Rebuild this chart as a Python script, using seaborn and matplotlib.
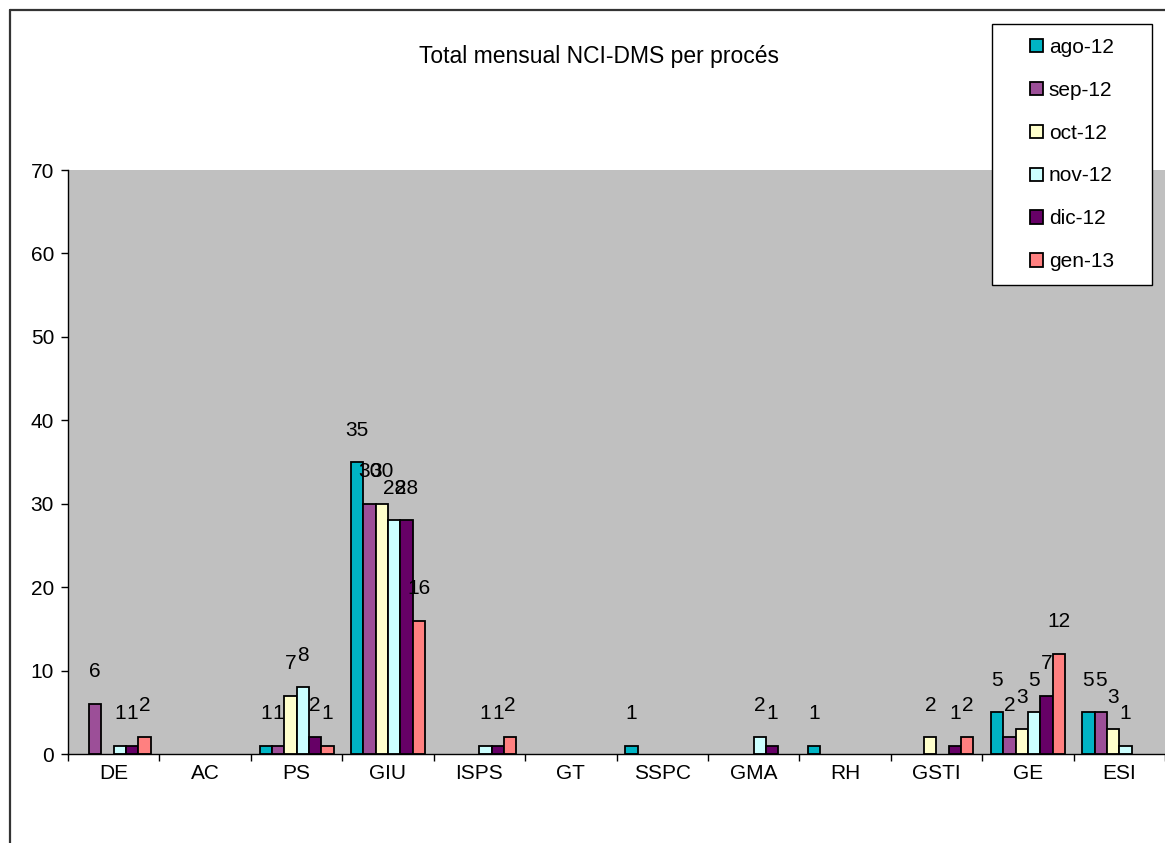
import numpy as np
import pandas as pd
import matplotlib
matplotlib.use("Agg")
import matplotlib.pyplot as plt
from matplotlib import font_manager
from matplotlib.patches import Patch, Rectangle
from matplotlib.lines import Line2D
import seaborn as sns

# Data: monthly NCI-DMS totals by process
processes = ["DE", "AC", "PS", "GIU", "ISPS", "GT", "SSPC", "GMA", "RH", "GSTI", "GE", "ESI"]
months = ["ago-12", "sep-12", "oct-12", "nov-12", "dic-12", "gen-13"]
ago_12 = [0, 0, 1, 35, 0, 0, 1, 0, 1, 0, 5, 5]
sep_12 = [6, 0, 1, 30, 0, 0, 0, 0, 0, 0, 2, 5]
oct_12 = [0, 0, 7, 30, 0, 0, 0, 0, 0, 2, 3, 3]
nov_12 = [1, 0, 8, 28, 1, 0, 0, 2, 0, 0, 5, 1]
dic_12 = [1, 0, 2, 28, 1, 0, 0, 1, 0, 1, 7, 0]
gen_13 = [2, 0, 1, 16, 2, 0, 0, 0, 0, 2, 12, 0]
series = [ago_12, sep_12, oct_12, nov_12, dic_12, gen_13]
y_ticks = [0, 10, 20, 30, 40, 50, 60, 70]
title = "Total mensual NCI-DMS per procés"

colors = ["#00B4C4", "#9C4F98", "#FFFFCC", "#CCFFFF", "#660066", "#FF8080"]

df = pd.DataFrame({
    "proces": np.repeat([processes], len(months), axis=0).ravel(),
    "mes": np.repeat(months, len(processes)),
    "valor": np.concatenate(series),
})


def pick_font(names):
    for n in names:
        try:
            font_manager.findfont(font_manager.FontProperties(family=n), fallback_to_default=False)
            return n
        except Exception:
            continue
    return "DejaVu Sans"


sns.set_theme(style="white")
family = pick_font(["Liberation Sans Narrow", "Liberation Sans", "Arial"])
plt.rcParams["font.family"] = [family, "DejaVu Sans"]

FS = 15

W, H = 1165, 843
fig = plt.figure(figsize=(W / 100, H / 100), dpi=100)
fig.patch.set_facecolor("white")
ax = fig.add_axes([68 / W, 1 - 754 / H, (W - 68) / W, (754 - 170) / H])
ax.set_facecolor("#C0C0C0")

sns.barplot(data=df, x="proces", y="valor", hue="mes", order=processes,
            hue_order=months, palette=colors, width=0.81, gap=0,
            edgecolor="black", linewidth=1.3, saturation=1, ax=ax, legend=False)

# value labels above non-zero bars; empty bars are not drawn
for cont, vals in zip(ax.containers, series):
    for bar, v in zip(cont, vals):
        if v == 0:
            bar.set_visible(False)
            continue
        cx = bar.get_x() + bar.get_width() / 2
        ax.annotate(str(v), (cx, v), xytext=(0, 23), textcoords="offset points",
                    ha="center", va="center", fontsize=FS, color="black")

ax.set_xlim(-0.5, len(processes) - 0.5)
ax.set_ylim(0, 70)
ax.set_yticks(y_ticks)
ax.set_yticklabels([str(t) for t in y_ticks])
ax.tick_params(axis="y", which="major", left=True, length=5, width=1, color="black",
               pad=5, labelsize=FS, labelcolor="black")

# category separators as major ticks, names centred as minor ticks
ax.set_xticks(np.arange(-0.5, len(processes), 1))
ax.set_xticklabels([])
ax.set_xticks(np.arange(len(processes)), minor=True)
ax.set_xticklabels(processes, minor=True)
ax.tick_params(axis="x", which="major", bottom=True, length=5, width=1, color="black")
ax.tick_params(axis="x", which="minor", bottom=True, length=0, pad=7, labelsize=FS,
               labelcolor="black")
ax.set_xlabel("")
ax.set_ylabel("")

for side in ["top", "right"]:
    ax.spines[side].set_visible(False)
for side in ["left", "bottom"]:
    ax.spines[side].set_color("black")
    ax.spines[side].set_linewidth(1.0)

fig.text(599 / W, 1 - 57 / H, title, ha="center", va="center", fontsize=16.5, color="black")

# legend box with the entries centred inside it
box = (992 / W, 1 - 285 / H, 160 / W, 261 / H)
fig.add_artist(Rectangle(box[:2], box[2], box[3], transform=fig.transFigure,
                         facecolor="white", edgecolor="black", linewidth=1.0, zorder=4))
handles = [Patch(facecolor=c, edgecolor="black", linewidth=1.3) for c in colors]
leg = fig.legend(handles, months, loc="center", bbox_to_anchor=box,
                 frameon=False, fontsize=FS, labelspacing=1.15,
                 handlelength=0.6, handleheight=0.6, handletextpad=0.3,
                 borderpad=0.6, borderaxespad=0)
leg.set_zorder(5)
for t in leg.get_texts():
    t.set_color("black")

# chart area border
fig.add_artist(Line2D([10 / W, 10 / W], [0, 1 - 10 / H], transform=fig.transFigure,
                      color="#333333", linewidth=1.6))
fig.add_artist(Line2D([10 / W, 1], [1 - 10 / H, 1 - 10 / H], transform=fig.transFigure,
                      color="#333333", linewidth=1.6))

fig.savefig("out.png", dpi=100)
